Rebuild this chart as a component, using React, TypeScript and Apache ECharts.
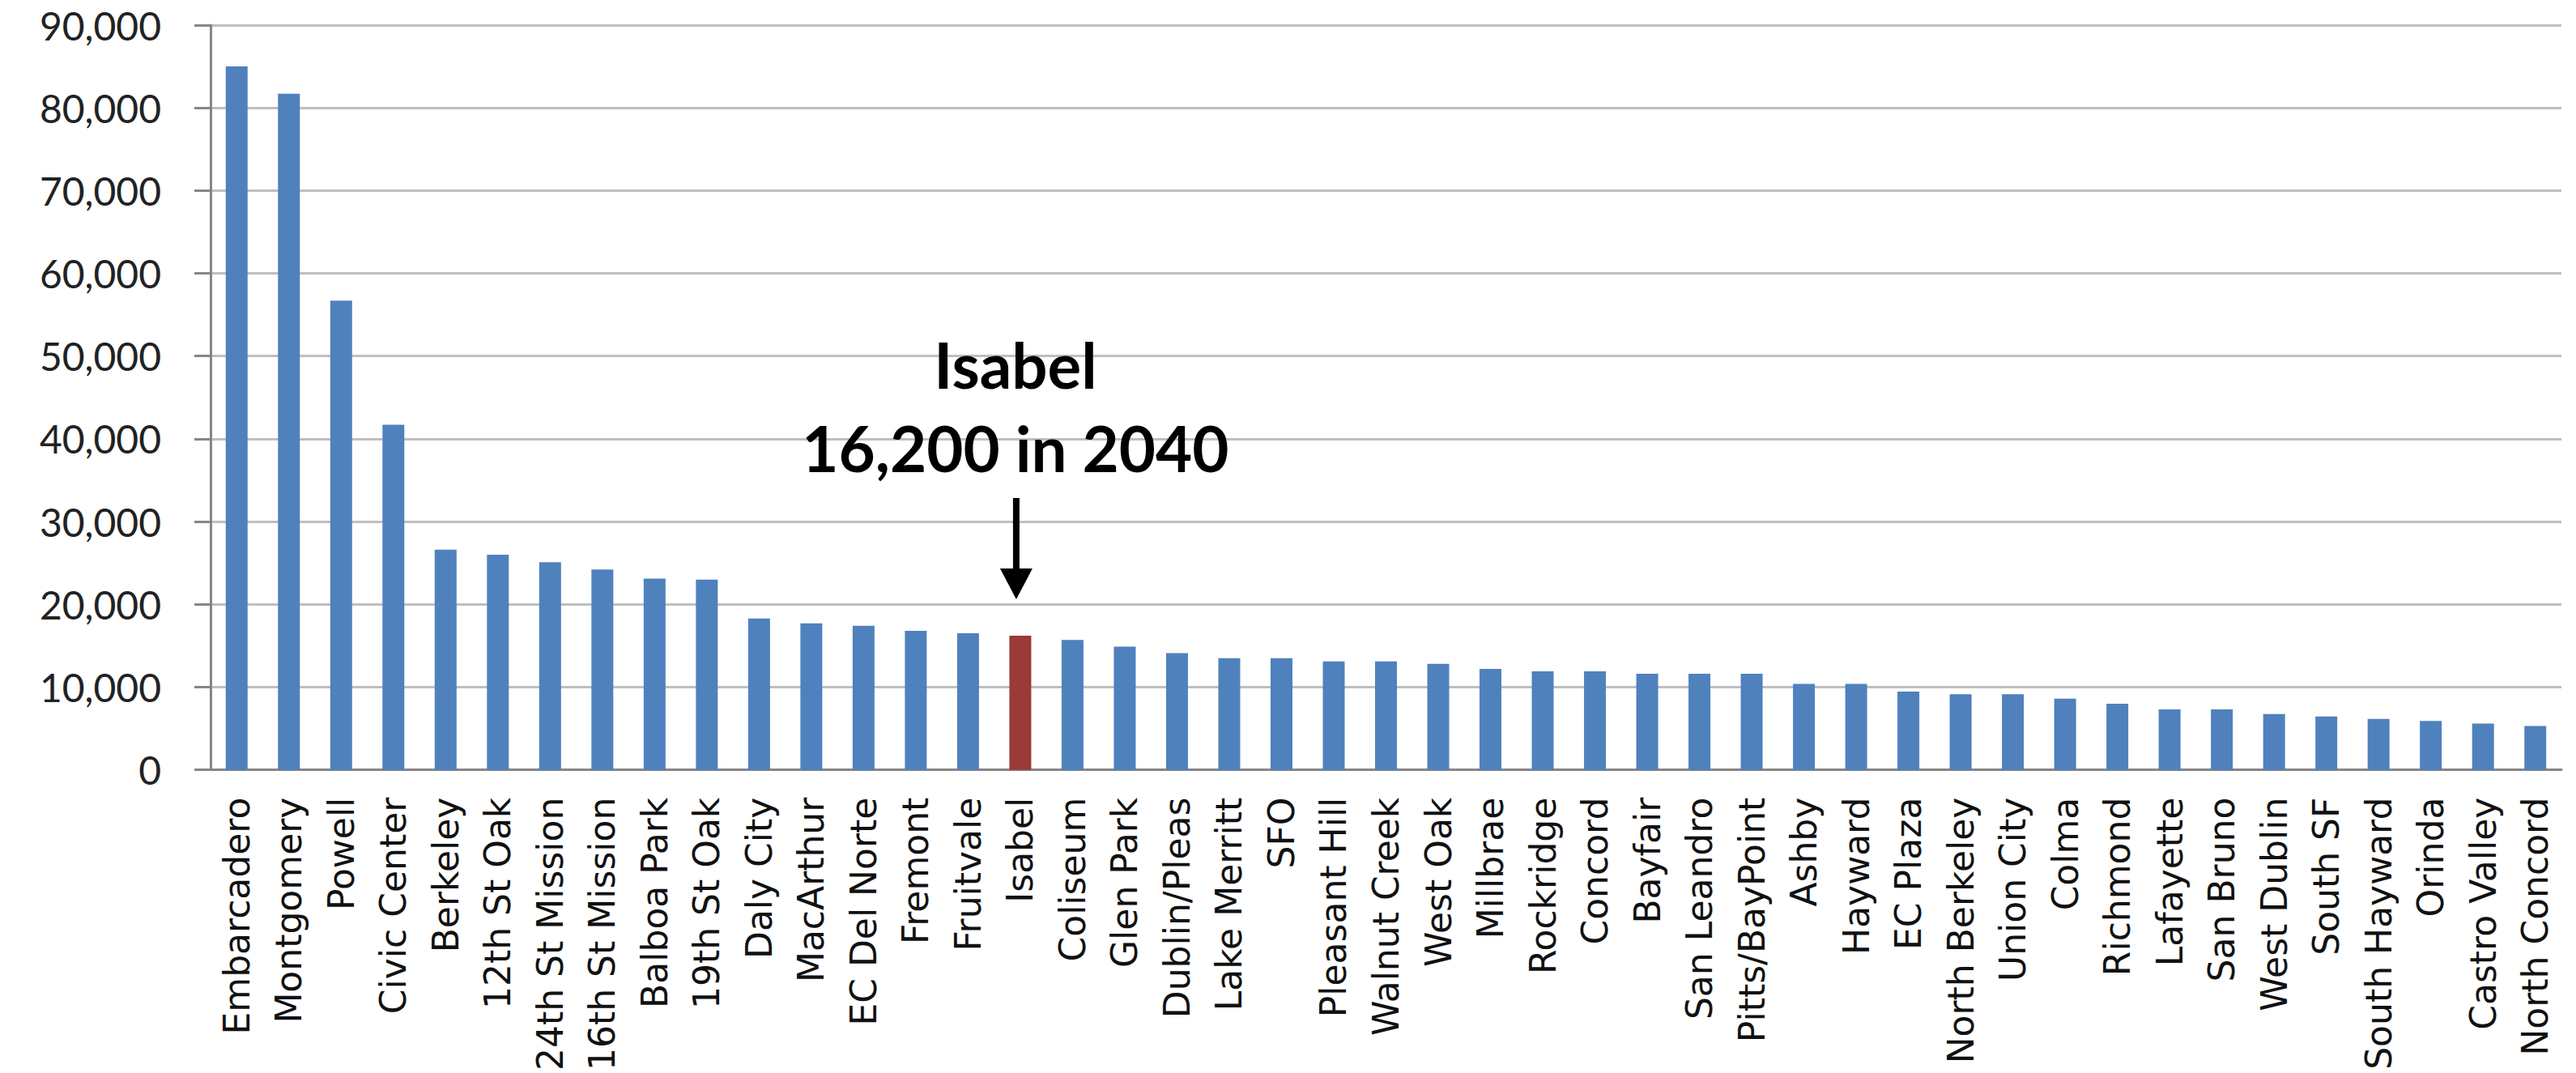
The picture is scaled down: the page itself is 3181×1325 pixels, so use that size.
import React, { useEffect, useRef } from "react";
import * as echarts from "echarts";

const categories = [
  "Embarcadero", "Montgomery", "Powell", "Civic Center", "Berkeley", "12th St Oak",
  "24th St Mission", "16th St Mission", "Balboa Park", "19th St Oak", "Daly City",
  "MacArthur", "EC Del Norte", "Fremont", "Fruitvale", "Isabel", "Coliseum",
  "Glen Park", "Dublin/Pleas", "Lake Merritt", "SFO", "Pleasant Hill", "Walnut Creek",
  "West Oak", "Millbrae", "Rockridge", "Concord", "Bayfair", "San Leandro",
  "Pitts/BayPoint", "Ashby", "Hayward", "EC Plaza", "North Berkeley", "Union City",
  "Colma", "Richmond", "Lafayette", "San Bruno", "West Dublin", "South SF",
  "South Hayward", "Orinda", "Castro Valley", "North Concord",
];

const riders2040 = [
  85000, 81700, 56700, 41700, 26600, 26000,
  25100, 24200, 23100, 23000, 18300,
  17700, 17400, 16800, 16500, 16200, 15700,
  14900, 14100, 13500, 13500, 13100, 13100,
  12800, 12200, 11900, 11900, 11600, 11600,
  11600, 10400, 10400, 9450, 9150, 9150,
  8600, 8000, 7300, 7300, 6750, 6450,
  6150, 5900, 5600, 5300,
];

const highlightStation = "Isabel";
const highlightValue = 16200;
const annotationLines = ["Isabel", "16,200 in 2040"];

const yMin = 0;
const yMax = 90000;
const yInterval = 10000;

export default function App() {
  const ref = useRef<HTMLDivElement>(null);

  useEffect(() => {
    document.body.style.margin = "0";
    document.body.style.overflow = "hidden";
    if (!ref.current) return;
    const chart = echarts.init(ref.current, undefined, { renderer: "svg" });

    const data = riders2040.map((v, i) =>
      categories[i] === highlightStation
        ? { value: v, itemStyle: { color: "#9B3A37" } }
        : v
    );

    chart.setOption({
      animation: false,
      backgroundColor: "#ffffff",
      grid: { left: 260, right: 18, top: 31, bottom: 367, containLabel: false },
      xAxis: {
        type: "category",
        data: categories,
        axisLine: { show: true, lineStyle: { color: "#868686", width: 3 } },
        axisTick: { show: false },
        axisLabel: {
          interval: 0,
          rotate: 90,
          margin: 34,
          fontFamily: "DejaVu Sans",
          fontSize: 44,
          color: "#111111",
        },
      },
      yAxis: {
        type: "value",
        min: yMin,
        max: yMax,
        interval: yInterval,
        axisLine: { show: true, lineStyle: { color: "#868686", width: 3 } },
        axisTick: { show: true, length: 20, lineStyle: { color: "#868686", width: 3 } },
        splitLine: { show: true, lineStyle: { color: "#BFBFBF", width: 3 } },
        axisLabel: {
          margin: 61,
          fontFamily: "Lato",
          fontSize: 48,
          color: "#222222",
          formatter: (v: number) => v.toLocaleString("en-US"),
        },
      },
      series: [
        {
          type: "bar",
          data,
          barWidth: 27,
          itemStyle: { color: "#4F81BD" },
        },
      ],
    });

    const [bx, by] = chart.convertToPixel({ xAxisIndex: 0, yAxisIndex: 0 }, [
      highlightStation,
      highlightValue,
    ]) as number[];

    chart.setOption({
      graphic: [
        {
          type: "text",
          x: bx - 6,
          y: by - 335,
          style: {
            text: annotationLines[0],
            fontFamily: "Lato",
            fontWeight: "bold",
            fontSize: 78,
            fill: "#000000",
            align: "center",
            verticalAlign: "middle",
          },
        },
        {
          type: "text",
          x: bx - 6,
          y: by - 232,
          style: {
            text: annotationLines[1],
            fontFamily: "Lato",
            fontWeight: "bold",
            fontSize: 78,
            fill: "#000000",
            align: "center",
            verticalAlign: "middle",
          },
        },
        {
          type: "line",
          shape: { x1: bx - 5, y1: by - 170, x2: bx - 5, y2: by - 80 },
          style: { stroke: "#000000", lineWidth: 8 },
        },
        {
          type: "polygon",
          shape: {
            points: [
              [bx - 25, by - 83],
              [bx + 15, by - 83],
              [bx - 5, by - 45],
            ],
          },
          style: { fill: "#000000" },
        },
      ],
    });

    return () => chart.dispose();
  }, []);

  return <div ref={ref} style={{ width: 3181, height: 1325 }} />;
}
